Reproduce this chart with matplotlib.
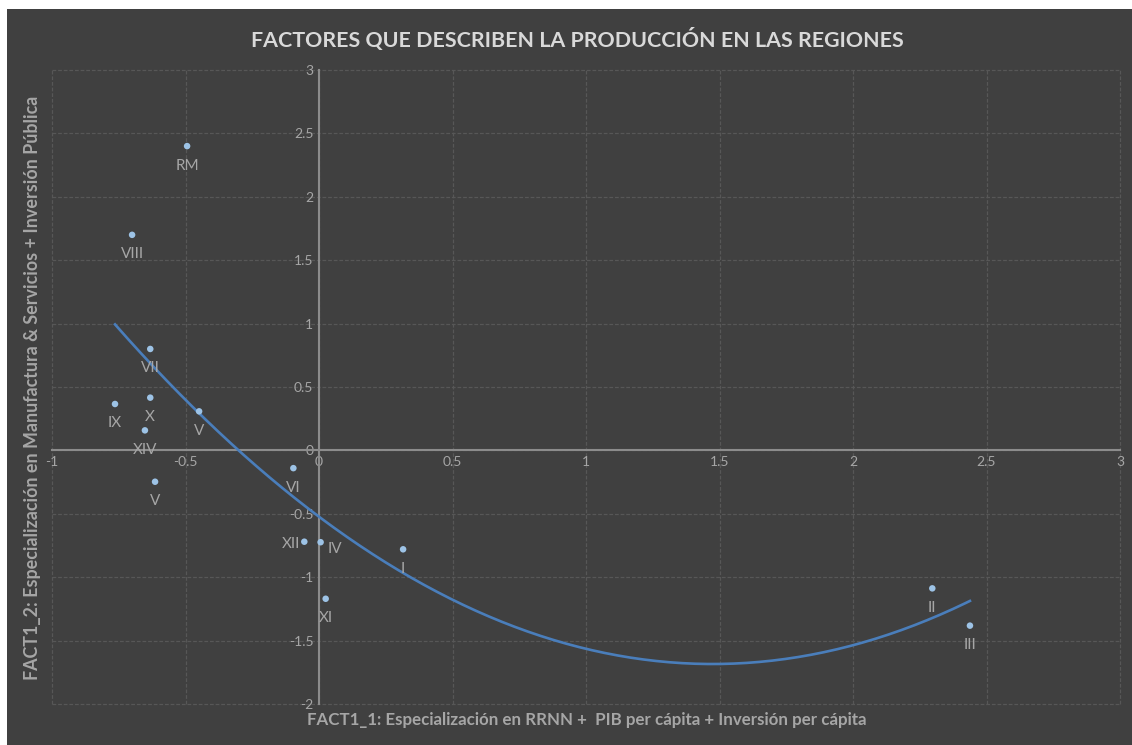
import numpy as np
import matplotlib.pyplot as plt
from matplotlib.patches import Rectangle
from matplotlib.ticker import MultipleLocator, FuncFormatter

# region factor scores
regions = ["RM", "VIII", "VII", "X", "IX", "XIV", "V", "V", "VI",
           "XII", "IV", "I", "XI", "II", "III"]
fact1 = [-0.494, -0.70, -0.632, -0.632, -0.764, -0.652, -0.449, -0.614, -0.096,
         -0.055, 0.006, 0.315, 0.025, 2.297, 2.438]
fact2 = [2.40, 1.70, 0.80, 0.416, 0.366, 0.158, 0.308, -0.247, -0.14,
         -0.72, -0.724, -0.78, -1.17, -1.088, -1.382]

title = "FACTORES QUE DESCRIBEN LA PRODUCCIÓN EN LAS REGIONES"
xlabel = "FACT1_1: Especialización en RRNN +  PIB per cápita + Inversión per cápita"
ylabel = "FACT1_2: Especialización en Manufactura & Servicios + Inversión Pública"

bg = "#404040"
txt = "#a6a6a6"

# labels are under their point, except these two that sit beside it
side_labels = {"XII": ((-3, -2), "right"), "IV": ((5, -5), "left")}

plt.rcParams['font.family'] = ['Lato', 'DejaVu Sans']

fig = plt.figure(figsize=(11.32, 7.45), dpi=100, facecolor="white")
# dark chart area with a thin white margin on top and left
fig.patches.append(Rectangle((7 / 1132, 0), 1, 1 - 9 / 745, transform=fig.transFigure,
                             facecolor=bg, edgecolor="none", zorder=-10))

ax = fig.add_axes([52 / 1132, 1 - 704 / 745, 1068 / 1132, 634 / 745])
ax.set_facecolor(bg)
ax.set_xlim(-1, 3)
ax.set_ylim(-2, 3)
ax.xaxis.set_major_locator(MultipleLocator(0.5))
ax.yaxis.set_major_locator(MultipleLocator(0.5))
fmt = FuncFormatter(lambda v, p: "%g" % v)
ax.xaxis.set_major_formatter(fmt)
ax.yaxis.set_major_formatter(fmt)

# axes cross at zero, like the spreadsheet chart
ax.spines['left'].set_position(('data', 0))
ax.spines['bottom'].set_position(('data', 0))
for s in ['left', 'bottom']:
    ax.spines[s].set_color("#8c8c8c")
    ax.spines[s].set_linewidth(1.5)
for s in ['top', 'right']:
    ax.spines[s].set_visible(False)
ax.tick_params(length=0, colors=txt, labelsize=10, pad=4)

ax.grid(True, color="#575757", linewidth=0.9, linestyle=(0, (3, 1.5)))
ax.set_axisbelow(True)
for gl in ax.get_xgridlines() + ax.get_ygridlines():
    gl.set_clip_on(False)

# second order polynomial trendline
coef = np.polyfit(fact1, fact2, 2)
xs = np.linspace(min(fact1), max(fact1), 200)
ax.plot(xs, np.polyval(coef, xs), color="#4a7ebb", linewidth=1.9, zorder=3)

ax.scatter(fact1, fact2, s=22, color="#9dc3e6", zorder=4, edgecolors="none")
for name, x, y in zip(regions, fact1, fact2):
    off, ha = side_labels.get(name, ((0, -14), "center"))
    ax.annotate(name, (x, y), xytext=off, textcoords="offset points",
                ha=ha, va="center", color=txt, fontsize=11, zorder=5)

fig.text(0.51, 1 - 40 / 745, title, ha="center", va="center", color="#d9d9d9",
         fontsize=15.4, fontweight="bold")
fig.text(0.518, 1 - 720 / 745, xlabel, ha="center", va="center", color=txt,
         fontsize=12.2, fontweight="bold")
fig.text(33 / 1132, 1 - 388 / 745, ylabel, ha="center", va="center", color=txt,
         fontsize=12.9, fontweight="bold", rotation=90)

fig.savefig("out.png", dpi=100, facecolor=fig.get_facecolor())
